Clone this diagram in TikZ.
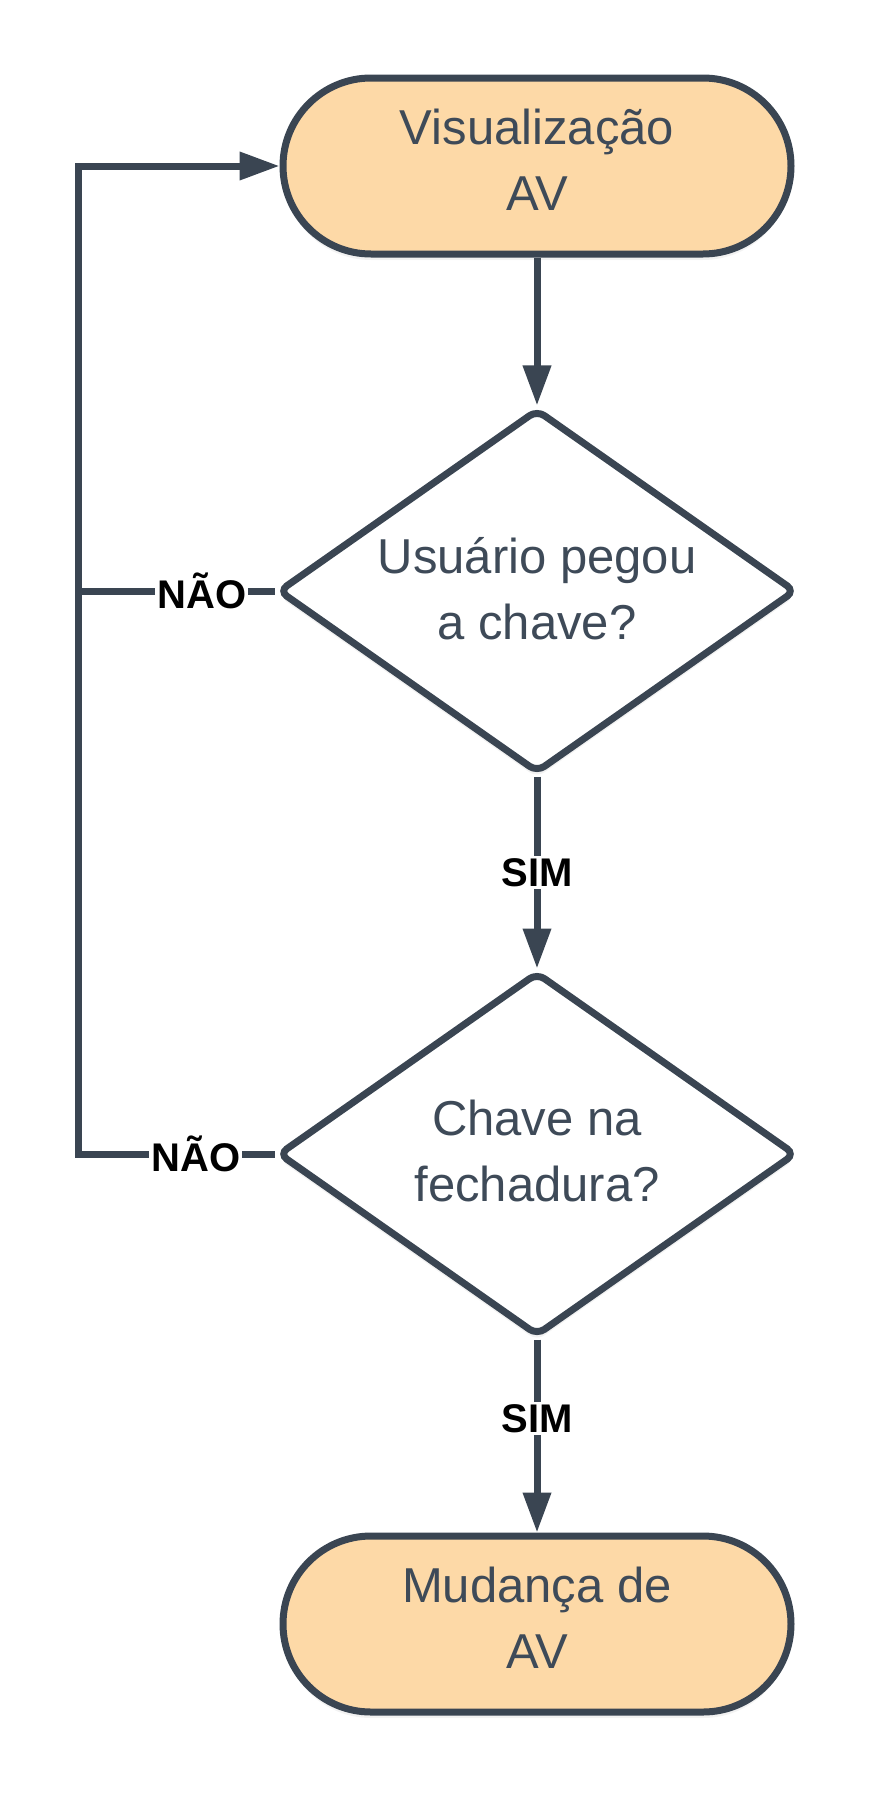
\documentclass[tikz,border=0pt]{standalone}
\usepackage{fontspec}
\setmainfont{Liberation Sans}
\usetikzlibrary{arrows.meta,shapes.geometric,shadows}
\definecolor{FlowInk}{HTML}{3A4552}
\definecolor{FlowText}{HTML}{3E4A58}
\definecolor{FlowFill}{HTML}{FDD9A7}
\tikzset{
  every node/.style={font=\fontsize{49}{66}\selectfont, text=FlowText, align=center},
  terminal/.style={draw=FlowInk, line width=7pt, fill=FlowFill, rounded corners=88pt,
    minimum width=508pt, minimum height=176pt, text depth=12pt,
    drop shadow={opacity=0.10, shadow xshift=0pt, shadow yshift=-6pt}},
  decision/.style={diamond, draw=FlowInk, line width=7pt, fill=white, rounded corners=9pt,
    minimum width=518pt, minimum height=364pt, aspect=1.43, inner sep=0pt, text depth=6pt,
    drop shadow={opacity=0.10, shadow xshift=0pt, shadow yshift=-6pt}},
  flow/.style={-{Triangle[length=40pt,width=27pt]}, draw=FlowInk, line width=7pt},
  link/.style={draw=FlowInk, line width=7pt},
  answer/.style={font=\bfseries\fontsize{40}{40}\selectfont, text=black, fill=white, inner sep=2pt},
}

\begin{document}
\begin{tikzpicture}[x=1pt,y=-1pt]
  \useasboundingbox (0,0) rectangle (876,1793);

  % Start, two questions, end
  \node[terminal] (start) at (537,166) {Visualização\\AV};
  \node[decision] (key) at (537,591) {Usuário pegou\\a chave?};
  \node[decision] (lock) at (537,1154) {Chave na\\fechadura?};
  \node[terminal] (change) at (537,1624) {Mudança de\\AV};

  % Return line on the left
  \coordinate (backA) at (78,591);
  \coordinate (backB) at (78,1154);

  % Connectors
  \draw[flow] (start) -- (key);
  \draw[flow] (key) -- node[answer] {SIM} (lock);
  \draw[flow] (lock) -- node[answer, pos=0.41] {SIM} (change);
  \draw[link] (key.west) -- node[answer, pos=0.37] {NÃO} (backA);
  \draw[flow] (lock.west) -- node[answer, pos=0.40] {NÃO} (backB) |- (start.west);
\end{tikzpicture}
\end{document}
